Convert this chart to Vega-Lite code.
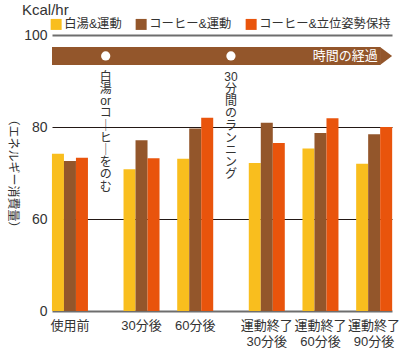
{
  "$schema": "https://vega.github.io/schema/vega-lite/v6.json",
  "width": 340,
  "height": 276,
  "autosize": {"type": "none"},
  "padding": {"left": 52, "top": 35, "right": 8, "bottom": 44},
  "background": "white",
  "config": {"font": "Liberation Sans, Noto Sans CJK JP", "view": {"stroke": null}},
  "title": {"text": "Kcal/hr", "anchor": "start", "frame": "group", "dx": -30, "dy": 4, "fontSize": 15, "fontWeight": "normal", "color": "#333333", "offset": 4},
  "datasets": {
    "bars": [
      {"時点": "使用前", "条件": "白湯&運動", "消費量": 74.2},
      {"時点": "使用前", "条件": "コーヒー&運動", "消費量": 72.6},
      {"時点": "使用前", "条件": "コーヒー&立位姿勢保持", "消費量": 73.3},
      {"時点": "30分後", "条件": "白湯&運動", "消費量": 70.8},
      {"時点": "30分後", "条件": "コーヒー&運動", "消費量": 77.1},
      {"時点": "30分後", "条件": "コーヒー&立位姿勢保持", "消費量": 73.2},
      {"時点": "60分後", "条件": "白湯&運動", "消費量": 73.1},
      {"時点": "60分後", "条件": "コーヒー&運動", "消費量": 79.7},
      {"時点": "60分後", "条件": "コーヒー&立位姿勢保持", "消費量": 82.0},
      {"時点": "運動終了 30分後", "条件": "白湯&運動", "消費量": 72.2},
      {"時点": "運動終了 30分後", "条件": "コーヒー&運動", "消費量": 80.9},
      {"時点": "運動終了 30分後", "条件": "コーヒー&立位姿勢保持", "消費量": 76.5},
      {"時点": "運動終了 60分後", "条件": "白湯&運動", "消費量": 75.3},
      {"時点": "運動終了 60分後", "条件": "コーヒー&運動", "消費量": 78.7},
      {"時点": "運動終了 60分後", "条件": "コーヒー&立位姿勢保持", "消費量": 81.9},
      {"時点": "運動終了 90分後", "条件": "白湯&運動", "消費量": 72.0},
      {"時点": "運動終了 90分後", "条件": "コーヒー&運動", "消費量": 78.4},
      {"時点": "運動終了 90分後", "条件": "コーヒー&立位姿勢保持", "消費量": 80.0}
    ],
    "events": [
      {"at": "_飲用", "text": ["白", "湯", "or", "コ", "｜", "ヒ", "｜", "を", "の", "む"]},
      {"at": "_ランニング", "text": ["30", "分", "間", "の", "ラ", "ン", "ニ", "ン", "グ"]}
    ],
    "timeline": [
      {"label": "時間の経過", "start": "使用前", "end": "運動終了 90分後"}
    ]
  },
  "layer": [
    {
      "data": {"name": "bars"},
      "mark": {"type": "bar"},
      "encoding": {
        "x": {
          "field": "時点", "type": "nominal",
          "scale": {"type": "band", "domain": ["使用前", "_1", "_飲用", "_2", "30分後", "_3", "_4", "60分後", "_5", "_ランニング", "_6", "運動終了 30分後", "_7", "_8", "運動終了 60分後", "_9", "_10", "運動終了 90分後"], "paddingInner": 0, "paddingOuter": 0.5},
          "axis": {"title": null, "domain": false, "ticks": false, "labelExpr": "substring(datum.value, 0, 1) == '_' ? '' : split(datum.value, ' ')", "labelFontSize": 13, "labelColor": "#333333", "labelPadding": 8, "labelLineHeight": 16, "labelOverlap": false, "labelBound": false, "labelAngle": 0, "labelBaseline": "top"}
        },
        "xOffset": {
          "field": "条件", "type": "nominal",
          "scale": {"domain": ["白湯&運動", "コーヒー&運動", "コーヒー&立位姿勢保持"], "range": [-9, 27], "paddingInner": 0, "paddingOuter": 0}
        },
        "y": {
          "field": "消費量", "type": "quantitative",
          "scale": {"domain": [0, 60, 80, 100], "range": [276, 184, 92, 0], "nice": false, "zero": false},
          "axis": {
            "title": "（エネルギー消費量）",
            "values": [0, 60, 80, 100], "domain": false, "ticks": false, "labelPadding": 5, "labelFontSize": 14, "labelColor": "#333333",
            "grid": true,
            "gridColor": {"condition": {"test": "datum.value == 0 || datum.value == 100", "value": "#6e6e6e"}, "value": "#231815"},
            "gridWidth": {"condition": {"test": "datum.value == 0 || datum.value == 100", "value": 2}, "value": 1},
            "titleAngle": 90, "titleX": -40, "titleY": 138, "titleAlign": "center", "titleBaseline": "middle", "titleFontSize": 12, "titleFontWeight": "normal", "titleColor": "#333333"
          }
        },
        "color": {
          "field": "条件", "type": "nominal",
          "scale": {"domain": ["白湯&運動", "コーヒー&運動", "コーヒー&立位姿勢保持"], "range": ["#F9BE1E", "#93562B", "#E9540C"]},
          "legend": {"title": null, "orient": "none", "legendX": -2, "legendY": -17, "direction": "horizontal", "symbolType": "square", "symbolSize": 121, "symbolStrokeWidth": 0, "labelFontSize": 12.3, "labelColor": "#333333", "labelOffset": 2, "columnPadding": 13, "padding": 0}
        }
      }
    },
    {
      "data": {"name": "timeline"},
      "mark": {"type": "rect", "color": "#93562B"},
      "encoding": {
        "x": {"field": "start", "type": "nominal", "bandPosition": -0.5},
        "x2": {"field": "end", "bandPosition": 0.85},
        "y": {"datum": 93.5},
        "y2": {"datum": 97.4}
      }
    },
    {
      "data": {"name": "timeline"},
      "mark": {"type": "point", "filled": true, "opacity": 1, "color": "#93562B", "shape": "M-0.67,-1L0.67,0L-0.67,1Z", "size": 324},
      "encoding": {
        "x": {"field": "end", "type": "nominal", "bandPosition": 1.17},
        "y": {"datum": 95.45}
      }
    },
    {
      "data": {"name": "events"},
      "mark": {"type": "point", "filled": true, "opacity": 1, "color": "white", "size": 85},
      "encoding": {
        "x": {"field": "at", "type": "nominal"},
        "y": {"datum": 95.45}
      }
    },
    {
      "data": {"name": "timeline"},
      "mark": {"type": "text", "color": "white", "align": "right", "baseline": "middle", "fontSize": 13},
      "encoding": {
        "x": {"field": "end", "type": "nominal", "bandPosition": 0.7},
        "y": {"datum": 95.45},
        "text": {"field": "label"}
      }
    },
    {
      "data": {"name": "events"},
      "mark": {"type": "text", "color": "#333333", "align": "center", "baseline": "top", "fontSize": 12, "lineHeight": 12.2},
      "encoding": {
        "x": {"field": "at", "type": "nominal"},
        "y": {"datum": 92},
        "text": {"field": "text"}
      }
    }
  ]
}
